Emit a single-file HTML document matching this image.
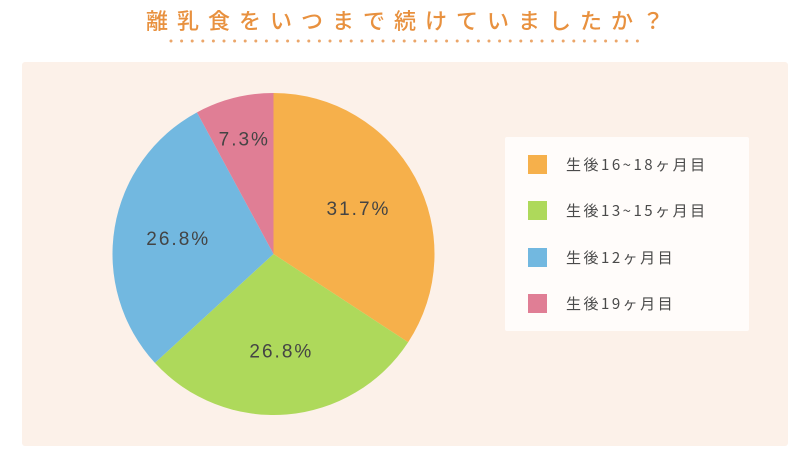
<!DOCTYPE html>
<html><head><meta charset="utf-8"><style>
body{margin:0;width:810px;height:456px;background:#fff;position:relative;overflow:hidden;font-family:"Liberation Sans","Noto Sans CJK JP",sans-serif}
#title{position:absolute;left:0;top:4px;width:810px;text-align:center;font-size:22px;letter-spacing:9px;color:#E8913F;font-family:"Noto Sans CJK JP",sans-serif;font-weight:500;padding-left:9px;box-sizing:border-box}
#panel{position:absolute;left:22px;top:62px;width:766px;height:384px;background:#FCF1E9;border-radius:3px}
#legend{position:absolute;left:505px;top:137px;width:244px;height:194px;background:#FFFCFA;border-radius:2px}
.li{position:absolute;left:23px;height:20px;display:flex;align-items:center}
.sw{width:19px;height:19px;margin-right:19px}
.lt{font-size:15px;letter-spacing:2.5px;color:#4a4a4a;font-family:"Noto Sans CJK JP",sans-serif}
</style></head><body>
<div id="title">離乳食をいつまで続けていましたか？</div>
<svg id="dots" width="810" height="50" style="position:absolute;left:0;top:0"></svg>
<div id="panel"></div>
<svg id="pie" width="810" height="456" style="position:absolute;left:0;top:0"></svg>
<div id="legend"></div>
<script>
const categories=["生後16~18ヶ月目","生後13~15ヶ月目","生後12ヶ月目","生後19ヶ月目"];
const values=[31.7,26.8,26.8,7.3];
const labels=["31.7%","26.8%","26.8%","7.3%"];
const colors=["#F6B04B","#AED95B","#72B8E0","#E07E95"];
const NS="http://www.w3.org/2000/svg";
const dots=document.getElementById('dots');
for(let x=171;x<=640;x+=10.6){const c=document.createElementNS(NS,'circle');c.setAttribute('cx',x);c.setAttribute('cy',41);c.setAttribute('r',1.5);c.setAttribute('fill','#EBA66A');


dots.appendChild(c);}
const svg=document.getElementById('pie');
const cx=273.5,cy=254,r=161;
const total=values.reduce((a,b)=>a+b,0);
function pt(a,rr){return [cx+rr*Math.sin(a),cy-rr*Math.cos(a)];}
let a0=0;
values.forEach((v,i)=>{
 const a1=a0+v/total*2*Math.PI;
 const p0=pt(a0,r),p1=pt(a1,r);
 const path=document.createElementNS(NS,'path');
 path.setAttribute('d',`M${cx},${cy}L${p0[0]},${p0[1]}A${r},${r} 0 ${a1-a0>Math.PI?1:0} 1 ${p1[0]},${p1[1]}Z`);
 path.setAttribute('fill',colors[i]);
 
 
 svg.appendChild(path);
 const m=(a0+a1)/2;
 const rf=(a1-a0)<0.6?0.74:0.6;
 const lp=pt(m,r*rf);
 const t=document.createElementNS(NS,'text');
 t.setAttribute('x',lp[0]);t.setAttribute('y',lp[1]+7);
 t.setAttribute('text-anchor','middle');t.setAttribute('font-size','19');
 t.setAttribute('letter-spacing','2');t.setAttribute('fill','#444');
 t.setAttribute('font-family','"Liberation Sans",sans-serif');
 t.textContent=labels[i];
 
 
 svg.appendChild(t);
 a0=a1;
});
const lg=document.getElementById('legend');
categories.forEach((c,i)=>{
 const d=document.createElement('div');d.className='li';d.style.top=(17+i*46.5)+'px';
 
 
 const s=document.createElement('div');s.className='sw';s.style.background=colors[i];
 
 
 const t=document.createElement('span');t.className='lt';t.textContent=c;
 
 
 d.appendChild(s);d.appendChild(t);lg.appendChild(d);
});
</script>
</body></html>
